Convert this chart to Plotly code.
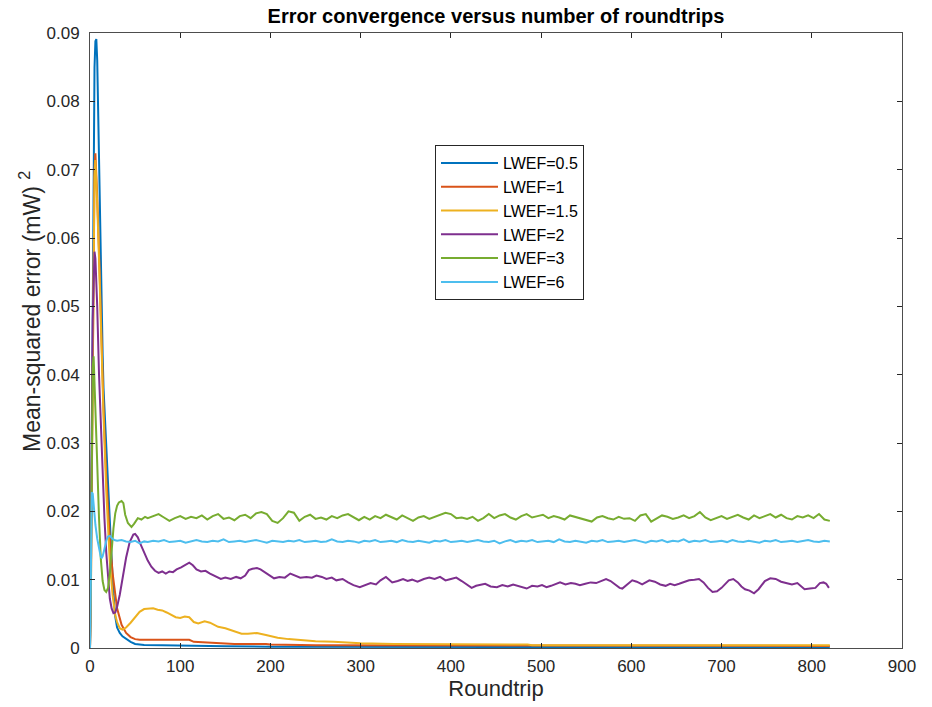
import plotly.graph_objects as go

NAMES = ["LWEF=0.5", "LWEF=1", "LWEF=1.5", "LWEF=2", "LWEF=3", "LWEF=6"]
COLORS = ["#0072BD", "#D95319", "#EDB120", "#7E2F8E", "#77AC30", "#4DBEEE"]

# ---- LWEF=0.5 ----
x_05 = [0, 1, 2, 3, 4, 5, 6, 7, 8, 9, 10, 11, 12, 13, 14, 15, 16, 17, 18, 20, 22, 24, 26, 28, 30,
        33, 36, 40, 45, 50, 55, 60, 80, 100, 110, 130, 150, 200, 250, 300, 400, 500, 600, 700, 820]
y_05 = [0, 0.010, 0.030, 0.055, 0.074, 0.085, 0.0888, 0.0891, 0.086, 0.078, 0.070, 0.062, 0.055,
        0.049, 0.043, 0.038, 0.035, 0.033, 0.029, 0.024, 0.0187, 0.013, 0.008, 0.0046, 0.003,
        0.0022, 0.0017, 0.0013, 0.0009, 0.0006, 0.0005, 0.00045, 0.0004, 0.00035, 0.0003, 0.0003,
        0.00025, 0.0002, 0.0002, 0.00015, 0.00012, 0.0001, 0.0001, 0.0001, 0.0001]

# ---- LWEF=1 ----
x_1 = [0, 1, 2, 3, 4, 5, 6, 7, 8, 10, 12, 15, 18, 20, 22, 25, 28, 30, 35, 40, 45, 50, 55, 60,
       80, 100, 110, 115, 130, 150, 160, 195, 200, 250, 320, 330, 400, 500, 600, 700, 820]
y_1 = [0, 0.008, 0.025, 0.045, 0.062, 0.070, 0.0724, 0.070, 0.066, 0.058, 0.048, 0.035, 0.025,
       0.020, 0.016, 0.011, 0.0075, 0.0058, 0.0034, 0.0022, 0.0016, 0.0013, 0.0012, 0.0012,
       0.0012, 0.0012, 0.0012, 0.0009, 0.0008, 0.0007, 0.0006, 0.0006, 0.0005, 0.0004, 0.0004,
       0.0003, 0.0003, 0.0003, 0.0003, 0.0003, 0.0003]

# ---- LWEF=1.5 ----
x_15 = [0, 1, 2, 3, 4, 5, 6, 7, 8, 10, 12, 15, 18, 20, 22, 25, 28, 30, 33, 36, 40, 45, 50, 55,
        60, 65, 70, 75, 80, 85, 90, 95, 100, 105, 110, 115, 120, 127, 133, 142, 150, 160, 168,
        175, 185, 195, 208, 220, 235, 250, 270, 300, 337, 380, 410, 485, 490, 600, 700, 820]
y_15 = [0, 0.008, 0.024, 0.044, 0.060, 0.069, 0.0714, 0.069, 0.065, 0.057, 0.047, 0.034, 0.023,
        0.017, 0.0125, 0.0078, 0.0048, 0.0038, 0.0029, 0.0027, 0.0030, 0.0037, 0.0045, 0.0053,
        0.0057, 0.0058, 0.0058, 0.0056, 0.0055, 0.0052, 0.0048, 0.0045, 0.0044, 0.0046, 0.0045,
        0.0038, 0.0036, 0.0039, 0.0037, 0.0031, 0.0029, 0.0024, 0.0021, 0.0021, 0.0022, 0.0019,
        0.0015, 0.0013, 0.0011, 0.0010, 0.0009, 0.0007, 0.0006, 0.0006, 0.0005, 0.0005, 0.0004,
        0.0004, 0.0004, 0.0004]

# ---- LWEF=2 ----
x_2 = [0, 1, 2, 3, 4, 5, 6, 8, 10, 12, 14, 16, 18, 20, 22, 24, 26, 28, 30, 33, 36, 40, 44, 48,
       50, 53, 56, 60, 64, 68, 72, 76, 80, 84, 88, 92, 96, 101, 106, 110, 114, 118, 123, 128,
       133, 138, 145, 150, 156, 162, 167, 172, 176, 180, 185, 189, 194, 199, 204, 210, 216,
       222, 227, 233, 240, 246, 251, 257, 262, 268, 273, 280, 286, 292, 299, 305, 311, 317,
       322, 328, 335, 341, 347, 352, 357, 363, 370, 376, 382, 388, 394, 400, 406, 412, 418,
       423, 428, 433, 438, 444, 451, 457, 463, 469, 475, 480, 484, 490, 496, 501, 506, 511,
       516, 521, 527, 533, 538, 543, 549, 555, 561, 566, 572, 577, 582, 587, 590, 595, 601,
       606, 612, 620, 626, 632, 638, 643, 648, 653, 658, 664, 670, 675, 680, 685, 690, 695,
       700, 705, 708, 713, 718, 722, 726, 731, 736, 741, 745, 748, 754, 760, 766, 772, 778,
       784, 789, 792, 798, 804, 809, 813, 816, 819]
y_2 = [0, 0.012, 0.032, 0.048, 0.056, 0.058, 0.057, 0.050, 0.040, 0.032, 0.025, 0.019, 0.014,
       0.010, 0.0072, 0.0058, 0.0051, 0.0052, 0.0060, 0.0078, 0.0102, 0.0132, 0.0155, 0.0166,
       0.0167, 0.0162, 0.0152, 0.0139, 0.0128, 0.0119, 0.0113, 0.0110, 0.0112, 0.0109, 0.0112,
       0.0111, 0.0115, 0.0118, 0.0122, 0.0125, 0.0121, 0.0115, 0.0112, 0.0113, 0.0109, 0.0106,
       0.0101, 0.0103, 0.0101, 0.0104, 0.0102, 0.0106, 0.0114, 0.0116, 0.0117, 0.0115, 0.0111,
       0.0106, 0.0102, 0.0104, 0.0103, 0.0109, 0.0106, 0.0103, 0.0104, 0.0103, 0.0106, 0.0104,
       0.0101, 0.0103, 0.0099, 0.0101, 0.0096, 0.0092, 0.0089, 0.0092, 0.0095, 0.0093, 0.0099,
       0.0104, 0.0096, 0.0098, 0.0101, 0.0098, 0.0100, 0.0097, 0.0101, 0.0103, 0.0101, 0.0104,
       0.0099, 0.0101, 0.0103, 0.0098, 0.0093, 0.0088, 0.0091, 0.0093, 0.0094, 0.0090, 0.0089,
       0.0092, 0.0090, 0.0093, 0.0091, 0.0089, 0.0087, 0.0091, 0.0090, 0.0092, 0.0089, 0.0091,
       0.0094, 0.0096, 0.0093, 0.0095, 0.0094, 0.0092, 0.0094, 0.0096, 0.0095, 0.0098, 0.0101,
       0.0098, 0.0093, 0.0088, 0.0087, 0.0093, 0.0099, 0.0097, 0.0093, 0.0099, 0.0097, 0.0093,
       0.0091, 0.0094, 0.0092, 0.0094, 0.0096, 0.0099, 0.0100, 0.0101, 0.0096, 0.0088, 0.0082,
       0.0083, 0.0088, 0.0095, 0.0099, 0.0101, 0.0096, 0.0090, 0.0086, 0.0084, 0.0080, 0.0086,
       0.0094, 0.0098, 0.0102, 0.0101, 0.0097, 0.0095, 0.0093, 0.0095, 0.0089, 0.0086, 0.0087,
       0.0088, 0.0095, 0.0096, 0.0094, 0.0088]

# ---- LWEF=3 ----
x_3_early = [0, 1, 2, 3, 4, 6, 8, 10, 12, 14, 16, 18, 20, 22, 24, 26, 28, 30, 32, 35, 37, 39,
             42, 46, 49, 53, 57, 61]
y_3_early = [0, 0.014, 0.032, 0.041, 0.0427, 0.036, 0.027, 0.019, 0.013, 0.0098, 0.0085,
             0.0082, 0.0088, 0.011, 0.0145, 0.0175, 0.0197, 0.0208, 0.0213, 0.0215, 0.0212,
             0.0195, 0.0183, 0.0177, 0.0182, 0.0190, 0.0188, 0.0192]
y_3_late = [0.0190, 0.0193, 0.0196, 0.0191, 0.0186, 0.0190, 0.0193, 0.0189, 0.0192, 0.0190,
            0.0194, 0.0188, 0.0193, 0.0196, 0.0189, 0.0191, 0.0187, 0.0193, 0.0195, 0.0190,
            0.0197, 0.0199, 0.0196, 0.0186, 0.0183, 0.0190, 0.0200, 0.0198, 0.0186, 0.0192,
            0.0195, 0.0189, 0.0191, 0.0188, 0.0193, 0.0190, 0.0194, 0.0196, 0.0191, 0.0187,
            0.0192, 0.0188, 0.0193, 0.0190, 0.0195, 0.0191, 0.0188, 0.0194, 0.0190, 0.0186,
            0.0191, 0.0193, 0.0189, 0.0192, 0.0195, 0.0198, 0.0196, 0.0190, 0.0191, 0.0189,
            0.0192, 0.0186, 0.0190, 0.0196, 0.0190, 0.0194, 0.0196, 0.0191, 0.0188, 0.0193,
            0.0196, 0.0191, 0.0193, 0.0195, 0.0190, 0.0193, 0.0191, 0.0188, 0.0194, 0.0192,
            0.0190, 0.0187, 0.0185, 0.0191, 0.0193, 0.0190, 0.0188, 0.0192, 0.0189, 0.0190,
            0.0186, 0.0194, 0.0196, 0.0185, 0.0190, 0.0194, 0.0192, 0.0189, 0.0191, 0.0194,
            0.0190, 0.0193, 0.0199, 0.0191, 0.0187, 0.0190, 0.0193, 0.0189, 0.0192, 0.0195,
            0.0191, 0.0188, 0.0194, 0.0190, 0.0193, 0.0196, 0.0191, 0.0195, 0.0190, 0.0188,
            0.0193, 0.0191, 0.0194, 0.0190, 0.0196, 0.0188, 0.0186]

# ---- LWEF=6 ----
x_6_early = [0, 1, 2, 3, 4, 5, 6, 8, 10, 12, 13, 14, 16, 18, 20, 22, 24, 27, 30, 35, 40, 45,
             50, 55, 60]
y_6_early = [0, 0.012, 0.0228, 0.0226, 0.021, 0.0195, 0.018, 0.016, 0.0143, 0.0133, 0.0132,
             0.0134, 0.0145, 0.0157, 0.0163, 0.0164, 0.0161, 0.0158, 0.0157, 0.0158, 0.0156,
             0.0155, 0.0157, 0.0153, 0.0156]
y_6_late = [0.0155, 0.0157, 0.0156, 0.0158, 0.0155, 0.0156, 0.0157, 0.0154, 0.0156, 0.0158,
            0.0156, 0.0155, 0.0157, 0.0156, 0.0159, 0.0155, 0.0156, 0.0157, 0.0155, 0.0156,
            0.0158, 0.0156, 0.0154, 0.0157, 0.0156, 0.0155, 0.0157, 0.0156, 0.0158, 0.0155,
            0.0156, 0.0157, 0.0155, 0.0156, 0.0159, 0.0156, 0.0155, 0.0157, 0.0156, 0.0154,
            0.0157, 0.0156, 0.0158, 0.0155, 0.0156, 0.0157, 0.0155, 0.0158, 0.0156, 0.0155,
            0.0157, 0.0156, 0.0154, 0.0157, 0.0156, 0.0158, 0.0155, 0.0156, 0.0157, 0.0155,
            0.0156, 0.0158, 0.0156, 0.0155, 0.0157, 0.0153, 0.0156, 0.0158, 0.0155, 0.0157,
            0.0156, 0.0158, 0.0155, 0.0156, 0.0157, 0.0155, 0.0159, 0.0156, 0.0155, 0.0157,
            0.0156, 0.0154, 0.0157, 0.0156, 0.0158, 0.0155, 0.0156, 0.0157, 0.0155, 0.0156,
            0.0158, 0.0156, 0.0154, 0.0157, 0.0156, 0.0158, 0.0155, 0.0157, 0.0156, 0.0159,
            0.0155, 0.0157, 0.0156, 0.0158, 0.0155, 0.0156, 0.0157, 0.0155, 0.0158, 0.0156,
            0.0155, 0.0157, 0.0156, 0.0154, 0.0157, 0.0156, 0.0158, 0.0155, 0.0156, 0.0157,
            0.0155, 0.0156, 0.0158, 0.0156, 0.0155, 0.0157, 0.0156]

late_rounds_3 = list(range(64, 821, 6))
late_rounds_6 = list(range(64, 821, 6))

x_3 = x_3_early + late_rounds_3[:len(y_3_late)]
y_3 = y_3_early + y_3_late[:len(late_rounds_3)]
x_6 = x_6_early + late_rounds_6[:len(y_6_late)]
y_6 = y_6_early + y_6_late[:len(late_rounds_6)]

XS = [x_05, x_1, x_15, x_2, x_3, x_6]
YS = [y_05, y_1, y_15, y_2, y_3, y_6]

X_TICKS = [0, 100, 200, 300, 400, 500, 600, 700, 800, 900]
Y_TICKS = [0, 0.01, 0.02, 0.03, 0.04, 0.05, 0.06, 0.07, 0.08, 0.09]
Y_TICK_TEXT = ["0", "0.01", "0.02", "0.03", "0.04", "0.05", "0.06", "0.07", "0.08", "0.09"]

fig = go.Figure()
for i, (name, col, xs, ys) in enumerate(zip(NAMES, COLORS, XS, YS)):
    fig.add_trace(go.Scatter(x=xs, y=ys, mode="lines", name=name,
                             line=dict(color=col, width=2)))

FONT = "Liberation Sans, Arial, Helvetica, sans-serif"
axis_common = dict(showline=True, linecolor="#4d4d4d", linewidth=1, mirror="ticks",
                   ticks="inside", ticklen=5, tickcolor="#262626", showgrid=False,
                   zeroline=False, tickfont=dict(family=FONT, size=17, color="#262626"))

fig.update_layout(
    width=932, height=707,
    margin=dict(l=90, r=30, t=33, b=59),
    paper_bgcolor="white", plot_bgcolor="white",
    font=dict(family=FONT, color="#262626"),
    title=dict(text="<b>Error convergence versus number of roundtrips</b>",
               x=(90 + 902) / 2 / 932, xanchor="center", y=1 - 16 / 707, yanchor="middle",
               font=dict(family=FONT, size=20, color="black")),
    xaxis=dict(range=[0, 900], tickvals=X_TICKS, ticklabelstandoff=3,
               title=dict(text="Roundtrip", font=dict(family=FONT, size=22), standoff=2),
               **axis_common),
    yaxis=dict(range=[0, 0.09], tickvals=Y_TICKS, ticktext=Y_TICK_TEXT,
               ticklabelstandoff=6, **axis_common),
    legend=dict(x=(435 - 90) / 812, y=(648 - 145) / 615, xanchor="left", yanchor="top",
                bgcolor="white", bordercolor="#262626", borderwidth=1,
                font=dict(family=FONT, size=16, color="black"),
                itemwidth=57),
    showlegend=True,
)

fig.add_annotation(text="Mean-squared error (mW) <sup>2</sup>", textangle=-90,
                   xref="paper", yref="paper", x=(30 - 90) / 812, y=(648 - 312) / 615,
                   xanchor="center", yanchor="middle", showarrow=False,
                   font=dict(family=FONT, size=23, color="#262626"))

fig.write_html("out.html")
